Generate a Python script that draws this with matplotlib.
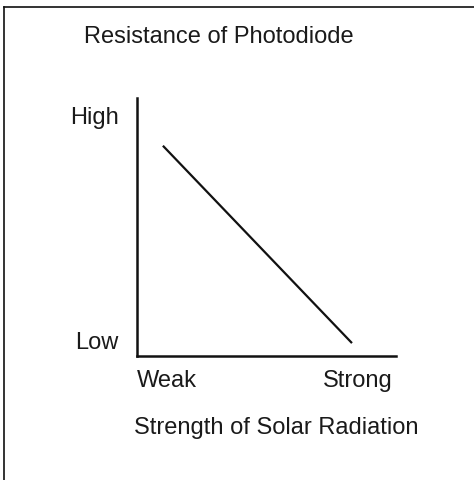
import matplotlib
matplotlib.use("Agg")
import matplotlib.pyplot as plt
from matplotlib.lines import Line2D

x_vals = [0.10, 0.83]
y_vals = [0.815, 0.05]
x_labels = ["Weak", "Strong"]
y_labels = ["Low", "High"]
title = "Resistance of Photodiode"
xlabel = "Strength of Solar Radiation"

plt.rcParams['font.family'] = ['Liberation Sans', 'DejaVu Sans']
fs = 17
tc = '#1a1a1a'

W, H = 474, 480
fig = plt.figure(figsize=(W/100, H/100), dpi=100)
fig.patch.set_facecolor('white')
ax = fig.add_axes([137/W, (H-356)/H, (396-137)/W, (356-98)/H])
ax.plot(x_vals, y_vals, color='#111111', lw=1.6, solid_capstyle='butt')
ax.set_xlim(0, 1)
ax.set_ylim(0, 1)
for s in ['top', 'right']:
    ax.spines[s].set_visible(False)
for s in ['left', 'bottom']:
    ax.spines[s].set_linewidth(1.8)
    ax.spines[s].set_color('#111111')
ax.set_xticks([])
ax.set_yticks([])

def px(x, y):
    return x / W, 1 - y / H

# axis end labels (figure pixel positions, baseline-anchored)
fig.text(*px(137, 387), x_labels[0], ha='left', va='baseline', fontsize=fs, color=tc)
fig.text(*px(393, 387), x_labels[1], ha='right', va='baseline', fontsize=fs, color=tc)
fig.text(*px(118, 349), y_labels[0], ha='right', va='baseline', fontsize=fs, color=tc)
fig.text(*px(119, 124), y_labels[1], ha='right', va='baseline', fontsize=fs, color=tc)

fig.text(*px(84, 43), title, ha='left', va='baseline', fontsize=fs, color=tc)
fig.text(*px(134, 434), xlabel, ha='left', va='baseline', fontsize=fs, color=tc)

# partial frame
fig.add_artist(Line2D([4/W, 1], [1 - 7/H, 1 - 7/H], transform=fig.transFigure, color='#111111', lw=1.2))
fig.add_artist(Line2D([4/W, 4/W], [0, 1 - 7/H], transform=fig.transFigure, color='#111111', lw=1.2))

fig.savefig("out.png", dpi=100)
